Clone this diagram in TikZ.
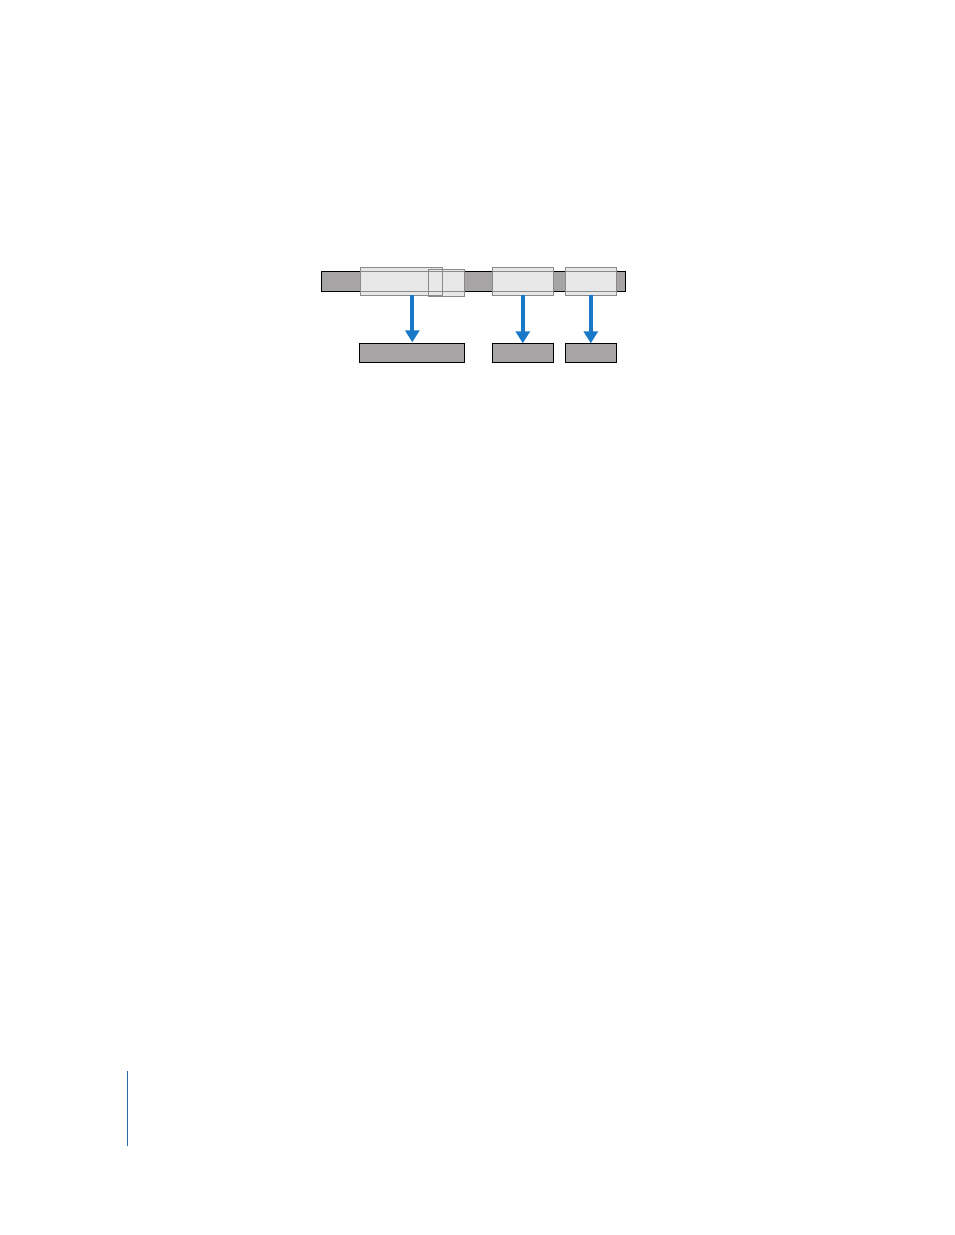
\documentclass[tikz,border=0pt]{standalone}
\usetikzlibrary{arrows.meta}
\definecolor{clipgray}{HTML}{A6A4A4}
\definecolor{selgray}{HTML}{E8E8E8}
\definecolor{selline}{HTML}{8A8A8A}
\definecolor{flowblue}{HTML}{1A78C8}
\definecolor{rulerblue}{HTML}{2E6BA6}
\begin{document}
\begin{tikzpicture}[x=1pt,y=-1pt]
\tikzstyle{every node}+=[inner sep=0pt, outer sep=0pt]
\tikzstyle{clip}=[draw=black, fill=clipgray, line width=0.9pt]
\tikzstyle{sel}=[fill=selgray, line width=0.8pt]
\tikzstyle{flow}=[flowblue, line width=4pt, -{Triangle[width=14pt,length=12pt]}]
\useasboundingbox (0,0) rectangle (954,1235);
% source track
\node[clip, minimum width=304pt, minimum height=20pt] (track) at (473.3,281) {};
% selected parts
\node[sel, minimum width=82pt, minimum height=28pt] (selA) at (401.3,281.3) {};
\node[sel, minimum width=36pt, minimum height=27.3pt] (selB) at (446.3,282.6) {};
\node[sel, minimum width=61pt, minimum height=28pt] (selC) at (522.8,281.3) {};
\node[sel, minimum width=51pt, minimum height=28pt] (selD) at (590.8,281.3) {};
% track edges seen through the selections
\draw[selline, line width=0.6pt] (selA.west |- track.north) -- (selB.east |- track.north);
\draw[selline, line width=0.6pt] (selA.west |- track.south) -- (selB.east |- track.south);
\draw[selline, line width=0.6pt] (selC.west |- track.north) -- (selC.east |- track.north);
\draw[selline, line width=0.6pt] (selC.west |- track.south) -- (selC.east |- track.south);
\draw[selline, line width=0.6pt] (selD.west |- track.north) -- (selD.east |- track.north);
\draw[selline, line width=0.6pt] (selD.west |- track.south) -- (selD.east |- track.south);
\draw[selline, line width=0.8pt] (selA.south west) rectangle (selA.north east);
\draw[selline, line width=0.8pt] (selB.south west) rectangle (selB.north east);
\draw[selline, line width=0.8pt] (selC.south west) rectangle (selC.north east);
\draw[selline, line width=0.8pt] (selD.south west) rectangle (selD.north east);
% new clips
\node[clip, minimum width=105pt, minimum height=19pt] (outA) at (411.8,352.8) {};
\node[clip, minimum width=61pt, minimum height=19pt] (outC) at (522.8,352.8) {};
\node[clip, minimum width=51pt, minimum height=19pt] (outD) at (590.8,352.8) {};
\draw[flow] (412.3,295.3) -- (412.3,342.3);
\draw[flow] (selC.south) -- (outC.north);
\draw[flow] (selD.south) -- (outD.north);
% page rule
\draw[rulerblue, line width=1pt] (127.5,1071) -- (127.5,1146);
\end{tikzpicture}
\end{document}
